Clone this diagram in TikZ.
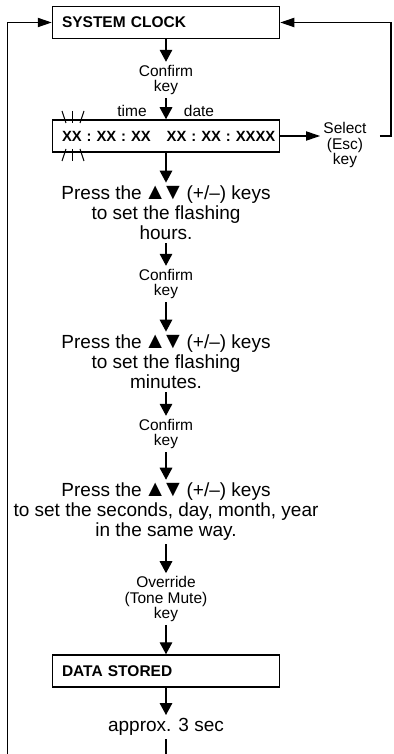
\documentclass[tikz,border=0pt]{standalone}
\usepackage{fontspec}
\setmainfont{Liberation Sans}
\usetikzlibrary{arrows.meta}

\newcommand{\updown}{{\fontsize{11.5}{10}\selectfont\kern-1.5pt▲\kern-2.6pt▼\kern-1.5pt}}

\begin{document}
\begin{tikzpicture}[x=0.5pt, y=-0.5pt,
    stepbox/.style={draw, line width=0.75pt, minimum height=16pt, text width=104pt,
      inner xsep=4.75pt, align=left, font=\fontsize{7.75}{9}\selectfont\bfseries},
    keylbl/.style={align=center, inner sep=1.5pt, font=\fontsize{7.75}{7.6}\selectfont},
    howto/.style={align=center, inner sep=1.5pt, font=\fontsize{9.5}{10}\selectfont},
    flow/.style={line width=0.65pt, -{Triangle[length=6pt, width=6.3pt]}},
    back/.style={line width=0.65pt, -{Triangle[length=7pt, width=4.6pt]}},
    flash/.style={line width=0.5pt},
  ]
  \useasboundingbox (0,0) rectangle (393,754);
  \node[stepbox] (clock) at (166,22.5) {SYSTEM CLOCK};
  \node[keylbl] (conf1) at (166,80) {Confirm\\key};
  \node[stepbox, font=\fontsize{7.4}{9}\selectfont\bfseries] (disp) at (166,136)
    {\mbox{XX : XX : XX\hspace{5.5pt} XX : XX : XXXX}};
  \node[keylbl] (time) at (132,111) {time};
  \node[keylbl] (date) at (199,111) {date};
  \node[keylbl] (select) at (345,145) {Select\\(Esc)\\key};
  \node[howto] (hours) at (166,213) {Press the \updown{} (+/–) keys\\to set the flashing\\hours.};
  \node[keylbl] (conf2) at (166,284) {Confirm\\key};
  \node[howto] (minutes) at (166,362) {Press the \updown{} (+/–) keys\\to set the flashing\\minutes.};
  \node[keylbl] (conf3) at (166,434) {Confirm\\key};
  \node[howto] (rest) at (166,512) {Press the \updown{} (+/–) keys\\to set the seconds, day, month, year\\in the same way.};
  \node[keylbl] (override) at (166,599) {Override\\(Tone Mute)\\key};
  \node[stepbox] (stored) at (166,671) {DATA STORED};
  \node[howto] (wait) at (166,727) {approx. 3 sec};
  \coordinate (lbot) at (7.5,754);
  \coordinate (rtop) at (391,22.5);

  \draw[flow] (clock) -- (conf1);
  \draw[flow] (conf1) -- (disp);
  \draw[flow] (disp) -- (hours);
  \draw[flow] (hours) -- (conf2);
  \draw[flow] (conf2) -- (minutes);
  \draw[flow] (minutes) -- (conf3);
  \draw[flow] (conf3) -- (rest);
  \draw[flow] (rest) -- (override);
  \draw[flow] (override) -- (stored);
  \draw[flow] (stored) -- (wait);
  \draw[line width=0.65pt] (wait) -- (wait |- lbot);
  \draw[back] (disp.east) -- (disp.east -| select.west);
  \draw[back] ([xshift=5pt]select.east |- disp.east) -| (rtop) -- (clock.east);
  \draw[back] (lbot) |- (clock.west);
  \foreach \a/\b in {62/66, 72.7/72.7, 84/80} {
    \draw[flash] (\a,111) -- (\b,123);
    \draw[flash] (\b,149) -- (\a,161);
  }
\end{tikzpicture}
\end{document}
